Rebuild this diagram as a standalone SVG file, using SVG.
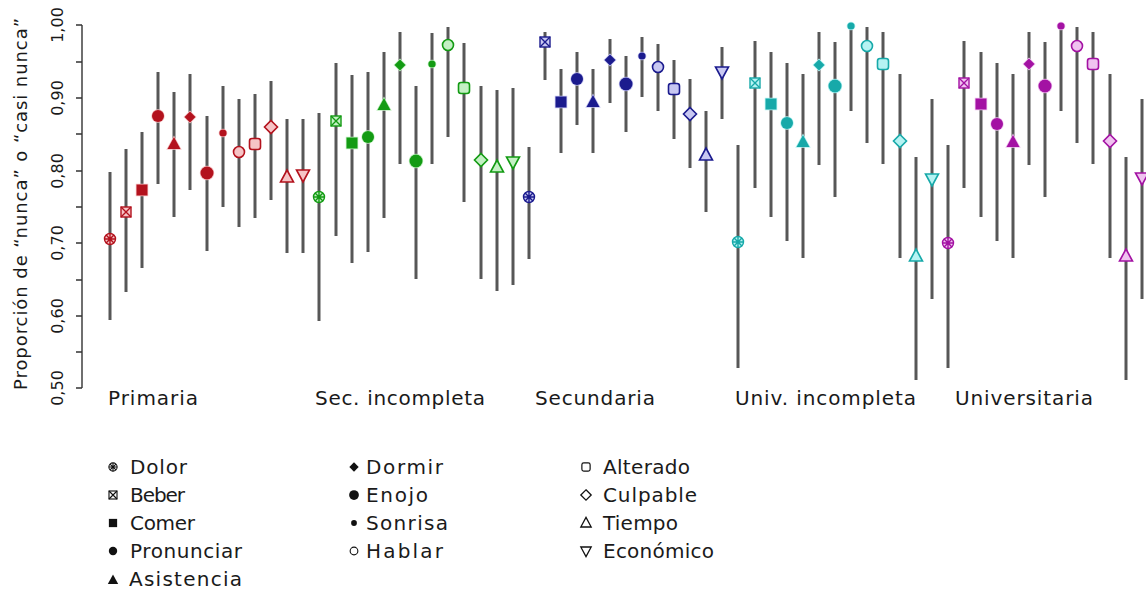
<svg xmlns="http://www.w3.org/2000/svg" width="1146" height="593" viewBox="0 0 1146 593">
<style>
text{font-family:"DejaVu Sans","Liberation Sans",sans-serif;fill:#1a1a1a}
.tick{font-size:16px}
.grp{font-size:20px}
.leg{font-size:20px}
.bar{stroke:#575757;stroke-width:3}
.axis{stroke:#333;stroke-width:1.4;fill:none}
.red{color:#b3121d;--lt:#f6c4c6}
.grn{color:#139b13;--lt:#c4f0c4}
.nav{color:#1b1b8e;--lt:#c8c8f2}
.cyn{color:#17a9a9;--lt:#b6f3f3}
.mag{color:#a312a3;--lt:#f0c2f0}
.blk{color:#111;--lt:#fff}
</style>
<defs>
<g id="dolor" style="fill:var(--lt);stroke:currentColor;stroke-width:1.4"><circle r="5.5"/><path d="M-5.5,0H5.5M0,-5.5V5.5M-3.9,-3.9L3.9,3.9M-3.9,3.9L3.9,-3.9" fill="none"/></g>
<g id="beber" style="fill:var(--lt);stroke:currentColor;stroke-width:1.4"><rect x="-5" y="-5" width="10" height="10"/><path d="M-5,-5L5,5M-5,5L5,-5" fill="none"/></g>
<rect id="comer" x="-5.5" y="-5.5" width="11" height="11" style="fill:currentColor;stroke:var(--lt);stroke-width:1.5;paint-order:stroke"/>
<circle id="pron" r="6" style="fill:currentColor;stroke:var(--lt);stroke-width:1.5;paint-order:stroke"/>
<path id="asis" d="M0,-7L6.5,5H-6.5Z" style="fill:currentColor;stroke:var(--lt);stroke-width:1.5;paint-order:stroke"/>
<path id="dorm" d="M0,-5.5L5.5,0L0,5.5L-5.5,0Z" style="fill:currentColor;stroke:var(--lt);stroke-width:1.5;paint-order:stroke"/>
<circle id="enojo" r="6.5" style="fill:currentColor;stroke:var(--lt);stroke-width:1.5;paint-order:stroke"/>
<circle id="sonr" r="3.6" style="fill:currentColor;stroke:var(--lt);stroke-width:1.5;paint-order:stroke"/>
<circle id="habl" r="5.5" style="fill:var(--lt);stroke:currentColor;stroke-width:1.6"/>
<rect id="alter" x="-5.5" y="-5.5" width="11" height="11" rx="2.5" style="fill:var(--lt);stroke:currentColor;stroke-width:1.6"/>
<path id="culp" d="M0,-6.5L6.5,0L0,6.5L-6.5,0Z" style="fill:var(--lt);stroke:currentColor;stroke-width:1.6"/>
<path id="tiem" d="M0,-7L6.5,5H-6.5Z" style="fill:var(--lt);stroke:currentColor;stroke-width:1.6"/>
<path id="econ" d="M0,7L6.5,-5H-6.5Z" style="fill:var(--lt);stroke:currentColor;stroke-width:1.6"/>
</defs>
<rect width="1146" height="593" fill="#fff"/>

<g id="axis">
<path class="axis" d="M82,25V388M76,25H82M76,62H82M76,98H82M76,134H82M76,171H82M76,207H82M76,243H82M76,280H82M76,316H82M76,352H82M76,388H82"/>
<text class="tick" text-anchor="middle" transform="translate(63,25) rotate(-90)">1,00</text>
<text class="tick" text-anchor="middle" transform="translate(63,98) rotate(-90)">0,90</text>
<text class="tick" text-anchor="middle" transform="translate(63,171) rotate(-90)">0,80</text>
<text class="tick" text-anchor="middle" transform="translate(63,243) rotate(-90)">0,70</text>
<text class="tick" text-anchor="middle" transform="translate(63,316) rotate(-90)">0,60</text>
<text class="tick" text-anchor="middle" transform="translate(63,388) rotate(-90)">0,50</text>
<text font-size="18" transform="translate(27,390) rotate(-90)" textLength="372" lengthAdjust="spacing">Proporción de “nunca” o “casi nunca”</text>
</g>

<g id="bars">
<line class="bar" x1="110" y1="172" x2="110" y2="320"/>
<line class="bar" x1="126" y1="149" x2="126" y2="292"/>
<line class="bar" x1="142" y1="132" x2="142" y2="268"/>
<line class="bar" x1="158" y1="72" x2="158" y2="184"/>
<line class="bar" x1="174" y1="92" x2="174" y2="217"/>
<line class="bar" x1="190" y1="74" x2="190" y2="190"/>
<line class="bar" x1="207" y1="116" x2="207" y2="251"/>
<line class="bar" x1="223" y1="86" x2="223" y2="207"/>
<line class="bar" x1="239" y1="99" x2="239" y2="227"/>
<line class="bar" x1="255" y1="94" x2="255" y2="218"/>
<line class="bar" x1="271" y1="81" x2="271" y2="200"/>
<line class="bar" x1="287" y1="119" x2="287" y2="253"/>
<line class="bar" x1="303" y1="119" x2="303" y2="253"/>

<line class="bar" x1="319" y1="113" x2="319" y2="321"/>
<line class="bar" x1="336" y1="63" x2="336" y2="236"/>
<line class="bar" x1="352" y1="75" x2="352" y2="263"/>
<line class="bar" x1="368" y1="72" x2="368" y2="252"/>
<line class="bar" x1="384" y1="52" x2="384" y2="218"/>
<line class="bar" x1="400" y1="32" x2="400" y2="164"/>
<line class="bar" x1="416" y1="86" x2="416" y2="279"/>
<line class="bar" x1="432" y1="33" x2="432" y2="164"/>
<line class="bar" x1="448" y1="27" x2="448" y2="137"/>
<line class="bar" x1="464" y1="43" x2="464" y2="202"/>
<line class="bar" x1="481" y1="86" x2="481" y2="279"/>
<line class="bar" x1="497" y1="90" x2="497" y2="291"/>
<line class="bar" x1="513" y1="88" x2="513" y2="285"/>

<line class="bar" x1="529" y1="147" x2="529" y2="259"/>
<line class="bar" x1="545" y1="32" x2="545" y2="80"/>
<line class="bar" x1="561" y1="69" x2="561" y2="153"/>
<line class="bar" x1="577" y1="52" x2="577" y2="125"/>
<line class="bar" x1="593" y1="69" x2="593" y2="153"/>
<line class="bar" x1="610" y1="39" x2="610" y2="103"/>
<line class="bar" x1="626" y1="56" x2="626" y2="132"/>
<line class="bar" x1="642" y1="37" x2="642" y2="97"/>
<line class="bar" x1="658" y1="44" x2="658" y2="111"/>
<line class="bar" x1="674" y1="60" x2="674" y2="139"/>
<line class="bar" x1="690" y1="79" x2="690" y2="168"/>
<line class="bar" x1="706" y1="111" x2="706" y2="212"/>
<line class="bar" x1="722" y1="47" x2="722" y2="119"/>

<line class="bar" x1="738" y1="145" x2="738" y2="368"/>
<line class="bar" x1="755" y1="41" x2="755" y2="188"/>
<line class="bar" x1="771" y1="52" x2="771" y2="217"/>
<line class="bar" x1="787" y1="63" x2="787" y2="241"/>
<line class="bar" x1="803" y1="74" x2="803" y2="258"/>
<line class="bar" x1="819" y1="32" x2="819" y2="165"/>
<line class="bar" x1="835" y1="42" x2="835" y2="197"/>
<line class="bar" x1="851" y1="25" x2="851" y2="111"/>
<line class="bar" x1="867" y1="27" x2="867" y2="143"/>
<line class="bar" x1="883" y1="32" x2="883" y2="164"/>
<line class="bar" x1="900" y1="74" x2="900" y2="258"/>
<line class="bar" x1="916" y1="157" x2="916" y2="380"/>
<line class="bar" x1="932" y1="99" x2="932" y2="299"/>

<line class="bar" x1="948" y1="145" x2="948" y2="368"/>
<line class="bar" x1="964" y1="41" x2="964" y2="188"/>
<line class="bar" x1="981" y1="52" x2="981" y2="217"/>
<line class="bar" x1="997" y1="63" x2="997" y2="241"/>
<line class="bar" x1="1013" y1="74" x2="1013" y2="258"/>
<line class="bar" x1="1029" y1="32" x2="1029" y2="165"/>
<line class="bar" x1="1045" y1="42" x2="1045" y2="197"/>
<line class="bar" x1="1061" y1="25" x2="1061" y2="111"/>
<line class="bar" x1="1077" y1="27" x2="1077" y2="143"/>
<line class="bar" x1="1093" y1="32" x2="1093" y2="164"/>
<line class="bar" x1="1110" y1="74" x2="1110" y2="258"/>
<line class="bar" x1="1126" y1="157" x2="1126" y2="380"/>
<line class="bar" x1="1142" y1="99" x2="1142" y2="299"/>
</g>

<g id="primaria" class="red">
<use href="#dolor" x="110" y="239"/>
<use href="#beber" x="126" y="212"/>
<use href="#comer" x="142" y="190"/>
<use href="#pron" x="158" y="116"/>
<use href="#asis" x="174" y="144"/>
<use href="#dorm" x="190" y="117"/>
<use href="#enojo" x="207" y="173"/>
<use href="#sonr" x="223" y="133"/>
<use href="#habl" x="239" y="152"/>
<use href="#alter" x="255" y="144"/>
<use href="#culp" x="271" y="127"/>
<use href="#tiem" x="287" y="177"/>
<use href="#econ" x="303" y="175"/>
</g>
<g id="sec-incompleta" class="grn">
<use href="#dolor" x="319" y="197"/>
<use href="#beber" x="336" y="121"/>
<use href="#comer" x="352" y="143"/>
<use href="#pron" x="368" y="137"/>
<use href="#asis" x="384" y="105"/>
<use href="#dorm" x="400" y="65"/>
<use href="#enojo" x="416" y="161"/>
<use href="#sonr" x="432" y="64"/>
<use href="#habl" x="448" y="45"/>
<use href="#alter" x="464" y="88"/>
<use href="#culp" x="481" y="160"/>
<use href="#tiem" x="497" y="167"/>
<use href="#econ" x="513" y="162"/>
</g>
<g id="secundaria" class="nav">
<use href="#dolor" x="529" y="197"/>
<use href="#beber" x="545" y="42"/>
<use href="#comer" x="561" y="102"/>
<use href="#pron" x="577" y="79"/>
<use href="#asis" x="593" y="102"/>
<use href="#dorm" x="610" y="60"/>
<use href="#enojo" x="626" y="84"/>
<use href="#sonr" x="642" y="56"/>
<use href="#habl" x="658" y="67"/>
<use href="#alter" x="674" y="89"/>
<use href="#culp" x="690" y="114"/>
<use href="#tiem" x="706" y="155"/>
<use href="#econ" x="722" y="72"/>
</g>
<g id="univ-incompleta" class="cyn">
<use href="#dolor" x="738" y="242"/>
<use href="#beber" x="755" y="83"/>
<use href="#comer" x="771" y="104"/>
<use href="#pron" x="787" y="123"/>
<use href="#asis" x="803" y="142"/>
<use href="#dorm" x="819" y="65"/>
<use href="#enojo" x="835" y="86"/>
<use href="#sonr" x="851" y="26"/>
<use href="#habl" x="867" y="46"/>
<use href="#alter" x="883" y="64"/>
<use href="#culp" x="900" y="141"/>
<use href="#tiem" x="916" y="256"/>
<use href="#econ" x="932" y="179"/>
</g>
<g id="universitaria" class="mag">
<use href="#dolor" x="948" y="243"/>
<use href="#beber" x="964" y="83"/>
<use href="#comer" x="981" y="104"/>
<use href="#pron" x="997" y="124"/>
<use href="#asis" x="1013" y="142"/>
<use href="#dorm" x="1029" y="64"/>
<use href="#enojo" x="1045" y="86"/>
<use href="#sonr" x="1061" y="26"/>
<use href="#habl" x="1077" y="46"/>
<use href="#alter" x="1093" y="64"/>
<use href="#culp" x="1110" y="141"/>
<use href="#tiem" x="1126" y="256"/>
<use href="#econ" x="1142" y="178"/>
</g>

<g id="group-labels" class="grp">
<text x="108" y="405" textLength="90" lengthAdjust="spacing">Primaria</text>
<text x="315" y="405" textLength="170" lengthAdjust="spacing">Sec. incompleta</text>
<text x="535" y="405" textLength="120" lengthAdjust="spacing">Secundaria</text>
<text x="735" y="405" textLength="181" lengthAdjust="spacing">Univ. incompleta</text>
<text x="955" y="405" textLength="138" lengthAdjust="spacing">Universitaria</text>
</g>

<g id="legend" class="blk">
<use href="#dolor" transform="translate(113,467) scale(0.75)"/>
<use href="#beber" transform="translate(113,495) scale(0.8)"/>
<use href="#comer" transform="translate(113,523) scale(0.75)"/>
<use href="#pron" transform="translate(113,551) scale(0.7)"/>
<use href="#asis" transform="translate(113,580) scale(0.8)"/>
<use href="#dorm" transform="translate(354,467) scale(0.85)"/>
<use href="#enojo" transform="translate(354,495) scale(0.75)"/>
<use href="#sonr" transform="translate(354,523) scale(0.8)"/>
<use href="#habl" transform="translate(354,551) scale(0.7)"/>
<use href="#alter" transform="translate(586,467) scale(0.75)"/>
<use href="#culp" transform="translate(586,495) scale(0.8)"/>
<use href="#tiem" transform="translate(586,523) scale(0.8)"/>
<use href="#econ" transform="translate(586,551) scale(0.8)"/>
<g class="leg">
<text x="130" y="474" textLength="57" lengthAdjust="spacing">Dolor</text>
<text x="130" y="502" textLength="55" lengthAdjust="spacing">Beber</text>
<text x="130" y="530" textLength="65" lengthAdjust="spacing">Comer</text>
<text x="130" y="558" textLength="112" lengthAdjust="spacing">Pronunciar</text>
<text x="129" y="586" textLength="113" lengthAdjust="spacing">Asistencia</text>
<text x="366" y="474" textLength="77" lengthAdjust="spacing">Dormir</text>
<text x="366" y="502" textLength="62" lengthAdjust="spacing">Enojo</text>
<text x="366" y="530" textLength="82" lengthAdjust="spacing">Sonrisa</text>
<text x="366" y="558" textLength="77" lengthAdjust="spacing">Hablar</text>
<text x="603" y="474" textLength="87" lengthAdjust="spacing">Alterado</text>
<text x="603" y="502" textLength="94" lengthAdjust="spacing">Culpable</text>
<text x="603" y="530" textLength="75" lengthAdjust="spacing">Tiempo</text>
<text x="603" y="558" textLength="111" lengthAdjust="spacing">Económico</text>
</g>
</g>
</svg>
